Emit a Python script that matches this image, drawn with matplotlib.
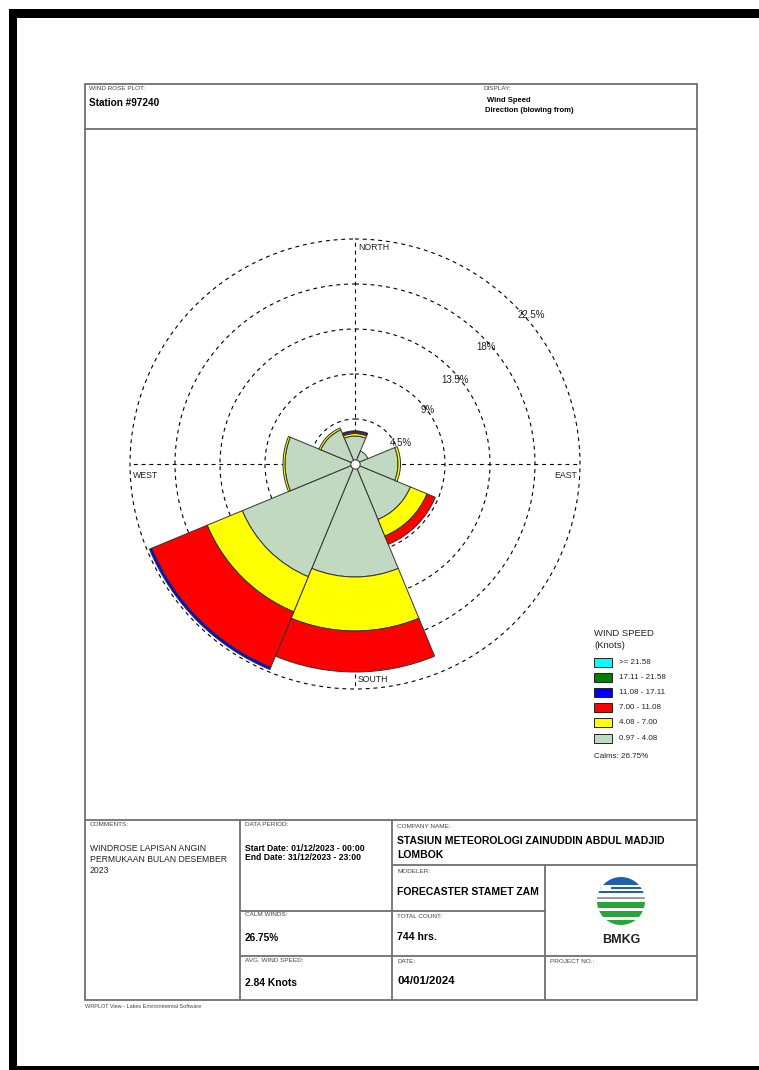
import numpy as np
import matplotlib
matplotlib.use("Agg")
import matplotlib.pyplot as plt
from matplotlib.patches import Rectangle, Circle
from matplotlib.lines import Line2D

plt.rcParams['font.family'] = ['Liberation Sans', 'DejaVu Sans']

# ---------------- data ----------------
directions = ['N', 'NE', 'E', 'SE', 'S', 'SW', 'W', 'NW']
dir_angles = [0, 45, 90, 135, 180, 225, 270, 315]
speed_bins = ['0.97 - 4.08', '4.08 - 7.00', '7.00 - 11.08',
              '11.08 - 17.11', '17.11 - 21.58', '>= 21.58']
bin_colors = ['#c0d9c0', '#ffff00', '#ff0000', '#0000ff', '#008000', '#00ffff']
# frequency (%) per direction for each speed class
freq_097_408 = [2.8, 1.4, 4.3, 6.0, 11.3, 12.2, 7.0, 3.7]
freq_408_700 = [0.25, 0.0, 0.25, 1.8, 5.4, 3.8, 0.2, 0.2]
freq_700_1108 = [0.15, 0.0, 0.0, 0.9, 4.1, 6.0, 0.0, 0.0]
freq_1108_1711 = [0.12, 0.0, 0.0, 0.0, 0.0, 0.25, 0.0, 0.0]
freq_1711_2158 = [0.0, 0.0, 0.0, 0.0, 0.0, 0.0, 0.0, 0.0]
freq_ge_2158 = [0.0, 0.0, 0.0, 0.0, 0.0, 0.0, 0.0, 0.0]
ring_values = [4.5, 9, 13.5, 18, 22.5]
ring_labels = ['4.5%', '9%', '13.5%', '18%', '22.5%']
calms = 26.75

W, H = 759, 1070
fig = plt.figure(figsize=(W / 100, H / 100), dpi=100)
page = fig.add_axes([0, 0, 1, 1])
page.set_xlim(0, W)
page.set_ylim(H, 0)
page.axis('off')

# black frame of the scanned page
page.add_patch(Rectangle((9, 9), W - 9, 9, color='black', lw=0))
page.add_patch(Rectangle((9, 9), 8, H - 9, color='black', lw=0))
page.add_patch(Rectangle((9, 1066), W - 9, 4, color='black', lw=0))

LC = '#707070'
LW = 1.3


def hline(y, x0, x1):
    page.add_line(Line2D([x0, x1], [y, y], color=LC, lw=LW))


def vline(x, y0, y1):
    page.add_line(Line2D([x, x], [y0, y1], color=LC, lw=LW))


# outer box & table
page.add_patch(Rectangle((85, 84), 612, 916, fill=False, ec=LC, lw=LW))
hline(129, 85, 697)
hline(820, 85, 697)
vline(240, 820, 1000)
vline(392, 820, 1000)
hline(865, 392, 697)
vline(545, 865, 1000)
hline(910.5, 240, 545)
hline(955.5, 240, 697)

small = dict(fontsize=4.6, color='#444444', va='center', ha='left')
page.text(89, 89, 'WIND ROSE PLOT:', **small)
page.text(89, 103, 'Station #97240', fontsize=7.2, fontweight='bold', va='center')
page.text(484, 89, 'DISPLAY:', **small)
page.text(487, 101, 'Wind Speed', fontsize=5.5, fontweight='bold', va='center')
page.text(485, 111, 'Direction (blowing from)', fontsize=5.5, fontweight='bold', va='center')

page.text(90, 825, 'COMMENTS:', **small)
for i, line in enumerate(['WINDROSE LAPISAN ANGIN', 'PERMUKAAN BULAN DESEMBER', '2023']):
    page.text(90, 848.5 + i * 11, line, fontsize=6.2, color='#222222', va='center')
page.text(245, 825, 'DATA PERIOD:', **small)
page.text(245, 848.5, 'Start Date: 01/12/2023 - 00:00', fontsize=6.2, fontweight='bold', va='center')
page.text(245, 857.5, 'End Date: 31/12/2023 - 23:00', fontsize=6.2, fontweight='bold', va='center')
page.text(245, 915, 'CALM WINDS:', **small)
page.text(245, 938, '26.75%', fontsize=7.2, fontweight='bold', va='center')
page.text(245, 961, 'AVG. WIND SPEED:', **small)
page.text(245, 983, '2.84 Knots', fontsize=7.4, fontweight='bold', va='center')

page.text(397, 826, 'COMPANY NAME:', **small)
page.text(397, 841, 'STASIUN METEOROLOGI ZAINUDDIN ABDUL MADJID', fontsize=7.5, fontweight='bold', va='center')
page.text(397, 855, 'LOMBOK', fontsize=7.5, fontweight='bold', va='center')
page.text(397, 871.5, 'MODELER:', **small)
page.text(397, 892, 'FORECASTER STAMET ZAM', fontsize=7.5, fontweight='bold', va='center')
page.text(397, 916.5, 'TOTAL COUNT:', **small)
page.text(397, 937.5, '744 hrs.', fontsize=7.6, fontweight='bold', va='center')
page.text(397, 961.5, 'DATE:', **small)
page.text(397, 981.5, '04/01/2024', fontsize=8.2, fontweight='bold', va='center')
page.text(550, 961.5, 'PROJECT NO.:', **small)
page.text(85, 1006, 'WRPLOT View - Lakes Environmental Software', fontsize=4.0, color='#444444', va='center')

# BMKG logo
lcx, lcy, lr = 621, 901, 24
clip = Circle((lcx, lcy), lr, transform=page.transData)
logo_parts = [
    (877, 885, '#1f5fb0'), (887, 889, '#1f5fb0'), (891, 893, '#1f5fb0'),
    (897, 899, '#9a9a9a'), (902, 908, '#2aa43a'), (911, 917, '#2aa43a'), (920, 926, '#2aa43a'),
]
for y0, y1, c in logo_parts:
    r = Rectangle((lcx - lr, y0), 2 * lr, y1 - y0, color=c, lw=0)
    page.add_patch(r)
    r.set_clip_path(clip)
page.add_patch(Rectangle((lcx - lr, 886), 14, 4, color='white', lw=0, clip_path=clip))
page.text(621, 940, 'BMKG', fontsize=9, fontweight='bold', ha='center', va='center', color='#222222')

# ---------------- wind rose ----------------
cx, cy, R = 355, 464, 225
ax = fig.add_axes([(cx - R) / W, (H - cy - R) / H, 2 * R / W, 2 * R / H], projection='polar')
ax.set_theta_zero_location('N')
ax.set_theta_direction(-1)
ax.set_ylim(0, ring_values[-1])
ax.set_axis_off()

dash = (0, (3.5, 3.5))
th = np.linspace(0, 2 * np.pi, 400)
for rv in ring_values:
    ax.plot(th, np.full_like(th, rv), color='black', lw=0.8, ls=dash, zorder=0.5, clip_on=False)
for a in [0, 90, 180, 270]:
    ax.plot([np.deg2rad(a)] * 2, [0, ring_values[-1]], color='black', lw=0.8, ls=dash,
            zorder=0.5, clip_on=False)

series = [freq_097_408, freq_408_700, freq_700_1108, freq_1108_1711, freq_1711_2158, freq_ge_2158]
theta = np.deg2rad(dir_angles)
bottom = np.zeros(len(directions))
for vals, col in zip(series, bin_colors):
    v = np.array(vals)
    mask = v > 0
    ax.bar(theta[mask], v[mask], width=np.deg2rad(45), bottom=bottom[mask],
           color=col, edgecolor='#333333', linewidth=0.7, zorder=2)
    bottom = bottom + v
ax.scatter([0], [0], s=45, color='white', edgecolor='#333333', linewidth=0.7, zorder=5)

# compass & ring labels (page pixel coords)
lab = dict(fontsize=6.3, color='#222222', va='center')
page.text(cx + 3, cy - 216, 'NORTH', ha='left', **lab)
page.text(cx + 3, cy + 216, 'SOUTH', ha='left', **lab)
page.text(cx - 222, cy + 11, 'WEST', ha='left', **lab)
page.text(cx + 222, cy + 11, 'EAST', ha='right', **lab)
ring_pos = [(401, 443), (428, 410), (455, 380), (486, 347), (531, 315)]
for (x, y), t in zip(ring_pos, ring_labels):
    page.text(x, y, t, fontsize=7, color='#222222', ha='center', va='center')

# legend
page.text(594, 633, 'WIND SPEED', fontsize=6.8, color='#222222', va='center')
page.text(594, 645, '(Knots)', fontsize=6.8, color='#222222', va='center')
for i, (lbl, col) in enumerate(zip(speed_bins[::-1], bin_colors[::-1])):
    y = 662 + i * 15.2
    page.add_patch(Rectangle((594, y - 4.5), 18, 9, facecolor=col, edgecolor='#222222', lw=0.7))
    page.text(619, y, lbl, fontsize=5.8, color='#222222', va='center')
page.text(594, 756, f'Calms: {calms:.2f}%', fontsize=5.8, color='#222222', va='center')

fig.savefig('out.png', dpi=100)
